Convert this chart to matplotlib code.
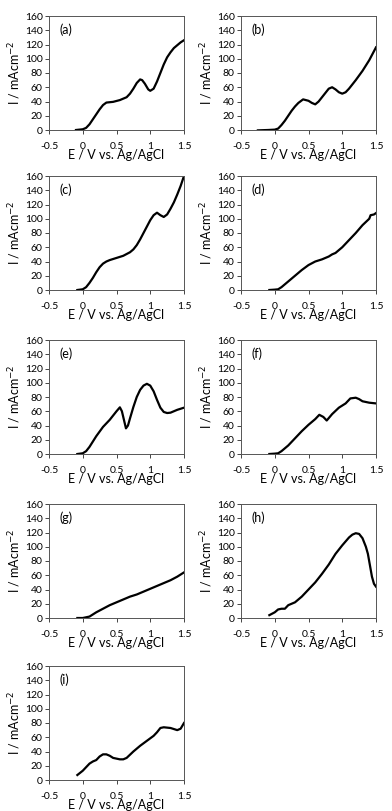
import matplotlib
matplotlib.use('Agg')
import matplotlib.pyplot as plt

plt.rcParams['font.family'] = ['Lato', 'DejaVu Sans']

labels = ['(a)', '(b)', '(c)', '(d)', '(e)', '(f)', '(g)', '(h)', '(i)']

# potentials (V vs Ag/AgCl) and current densities (mA cm-2)
e_a = [-0.1, 0.0, 0.05, 0.1, 0.15, 0.2, 0.25, 0.3, 0.35, 0.45, 0.55, 0.65, 0.7, 0.75, 0.8, 0.85, 0.88,
       0.92, 0.97, 1.0, 1.05, 1.1, 1.15, 1.2, 1.25, 1.3, 1.35, 1.4, 1.45, 1.5]
i_a = [0, 1, 3, 8, 15, 22, 29, 35, 38.5, 39.5, 42, 46, 51, 58, 66, 71, 70,
       65, 57, 55, 58, 68, 80, 92, 102, 109, 115, 119, 123, 126]

e_b = [-0.25, -0.1, 0.0, 0.05, 0.1, 0.15, 0.2, 0.25, 0.3, 0.35, 0.42, 0.5, 0.55, 0.6, 0.65, 0.7, 0.75,
       0.8, 0.85, 0.9, 0.95, 1.0, 1.05, 1.1, 1.2, 1.3, 1.4, 1.5]
i_b = [-0.5, 0, 0.5, 2, 7, 13, 20, 27, 33, 38, 43, 41, 38, 36, 40, 46, 52,
       58, 60, 57, 53, 51, 53, 58, 70, 83, 98, 116]

e_c = [-0.08, 0.0, 0.05, 0.1, 0.15, 0.2, 0.25, 0.3, 0.35, 0.4, 0.5, 0.6, 0.7, 0.75, 0.8, 0.85, 0.9,
       0.95, 1.0, 1.05, 1.1, 1.15, 1.2, 1.25, 1.3, 1.35, 1.4, 1.45, 1.5]
i_c = [0, 1, 4, 10, 17, 25, 32, 37, 40, 42, 45, 48, 53, 57, 63, 71, 80,
       89, 98, 105, 108.5, 105, 102.5, 106, 114, 123, 134, 146, 160]

e_d = [-0.08, 0.0, 0.05, 0.1, 0.2, 0.3, 0.4, 0.5, 0.6, 0.7, 0.8, 0.85, 0.9, 1.0, 1.1, 1.2, 1.3, 1.4,
       1.42, 1.47, 1.5]
i_d = [0, 0.5, 1, 4, 12, 20, 28, 35, 40, 43, 47, 50, 52, 60, 70, 80, 91, 100,
       105, 106, 108]

e_e = [-0.08, 0.0, 0.05, 0.1, 0.2, 0.3, 0.4, 0.5, 0.55, 0.58, 0.61, 0.64, 0.67, 0.7, 0.75, 0.8, 0.85,
       0.9, 0.95, 1.0, 1.05, 1.1, 1.15, 1.2, 1.25, 1.3, 1.4, 1.5]
i_e = [0, 1, 4, 10, 25, 38, 48, 60, 65.5, 60, 48, 36, 40, 50, 66, 80, 90,
       96, 98.5, 96, 88, 76, 65, 59, 57.5, 58, 62, 65]

e_f = [-0.08, 0.0, 0.05, 0.1, 0.2, 0.3, 0.4, 0.5, 0.6, 0.66, 0.72, 0.77, 0.85, 0.95, 1.05, 1.12,
       1.2, 1.25, 1.3, 1.4, 1.5]
i_f = [0, 0.5, 1, 4, 12, 22, 32, 41, 49, 55, 52, 47, 56, 65, 71, 78,
       79, 77, 74, 72, 71]

e_g = [-0.08, 0.0, 0.1, 0.2, 0.3, 0.4, 0.5, 0.6, 0.7, 0.8, 0.9, 1.0, 1.1, 1.2, 1.3, 1.4, 1.5]
i_g = [0, 0, 2, 8, 13, 18, 22, 26, 30, 33, 37, 41, 45, 49, 53, 58, 64]

e_h = [-0.08, 0.0, 0.05, 0.1, 0.15, 0.2, 0.3, 0.4, 0.5, 0.6, 0.7, 0.8, 0.9, 1.0, 1.1, 1.15, 1.2,
       1.25, 1.3, 1.35, 1.38, 1.41, 1.44, 1.47, 1.5]
i_h = [4, 8, 12, 13, 13, 18, 22, 30, 40, 50, 62, 75, 90, 102, 113, 117, 119,
       118, 112, 100, 90, 74, 58, 48, 44]

e_i = [-0.08, 0.0, 0.1, 0.15, 0.2, 0.25, 0.3, 0.35, 0.4, 0.45, 0.5, 0.55, 0.6, 0.65, 0.75, 0.85,
       0.95, 1.05, 1.1, 1.15, 1.2, 1.3, 1.4, 1.45, 1.5]
i_i = [7, 13, 23, 26, 28, 33, 36, 36, 34, 31, 30, 29, 29, 31, 40, 48,
       55, 62, 67, 73, 74, 73, 70, 72, 80]

curves = [(e_a, i_a), (e_b, i_b), (e_c, i_c), (e_d, i_d), (e_e, i_e),
          (e_f, i_f), (e_g, i_g), (e_h, i_h), (e_i, i_i)]

xticks = [-0.5, 0, 0.5, 1, 1.5]
xticklabels = ['-0.5', '0', '0.5', '1', '1.5']
yticks = [0, 20, 40, 60, 80, 100, 120, 140, 160]

W, H = 392, 811
fig = plt.figure(figsize=(W / 100, H / 100), dpi=100)

lefts = [49, 241]
tops = [16, 176, 340, 504, 666]
aw, ah = 135, 114

for k, (lab, (e, cur)) in enumerate(zip(labels, curves)):
    row, col = divmod(k, 2)
    x0 = lefts[col] / W
    y0 = 1 - (tops[row] + ah) / H
    ax = fig.add_axes([x0, y0, aw / W, ah / H])
    ax.plot(e, cur, color='black', lw=1.6)
    ax.set_xlim(-0.5, 1.5)
    ax.set_ylim(0, 160)
    ax.set_xticks(xticks)
    ax.set_xticklabels(xticklabels)
    ax.set_yticks(yticks)
    ax.tick_params(axis='x', direction='out', length=3, width=0.7, pad=5.5, labelsize=7.5, color='#444444')
    ax.tick_params(axis='y', direction='out', length=3, width=0.7, pad=1.5, labelsize=7.5, color='#444444')
    for sp in ax.spines.values():
        sp.set_color('#555555')
        sp.set_linewidth(0.7)
    ax.text(0.08, 0.88, lab, transform=ax.transAxes, fontsize=9, va='center', ha='left')
    ax.set_xlabel('E / V vs. Ag/AgCl', fontsize=9, labelpad=-1)
    ax.set_ylabel('I / mAcm$^{-2}$', fontsize=9, labelpad=1)

fig.savefig('out.png', dpi=100)
